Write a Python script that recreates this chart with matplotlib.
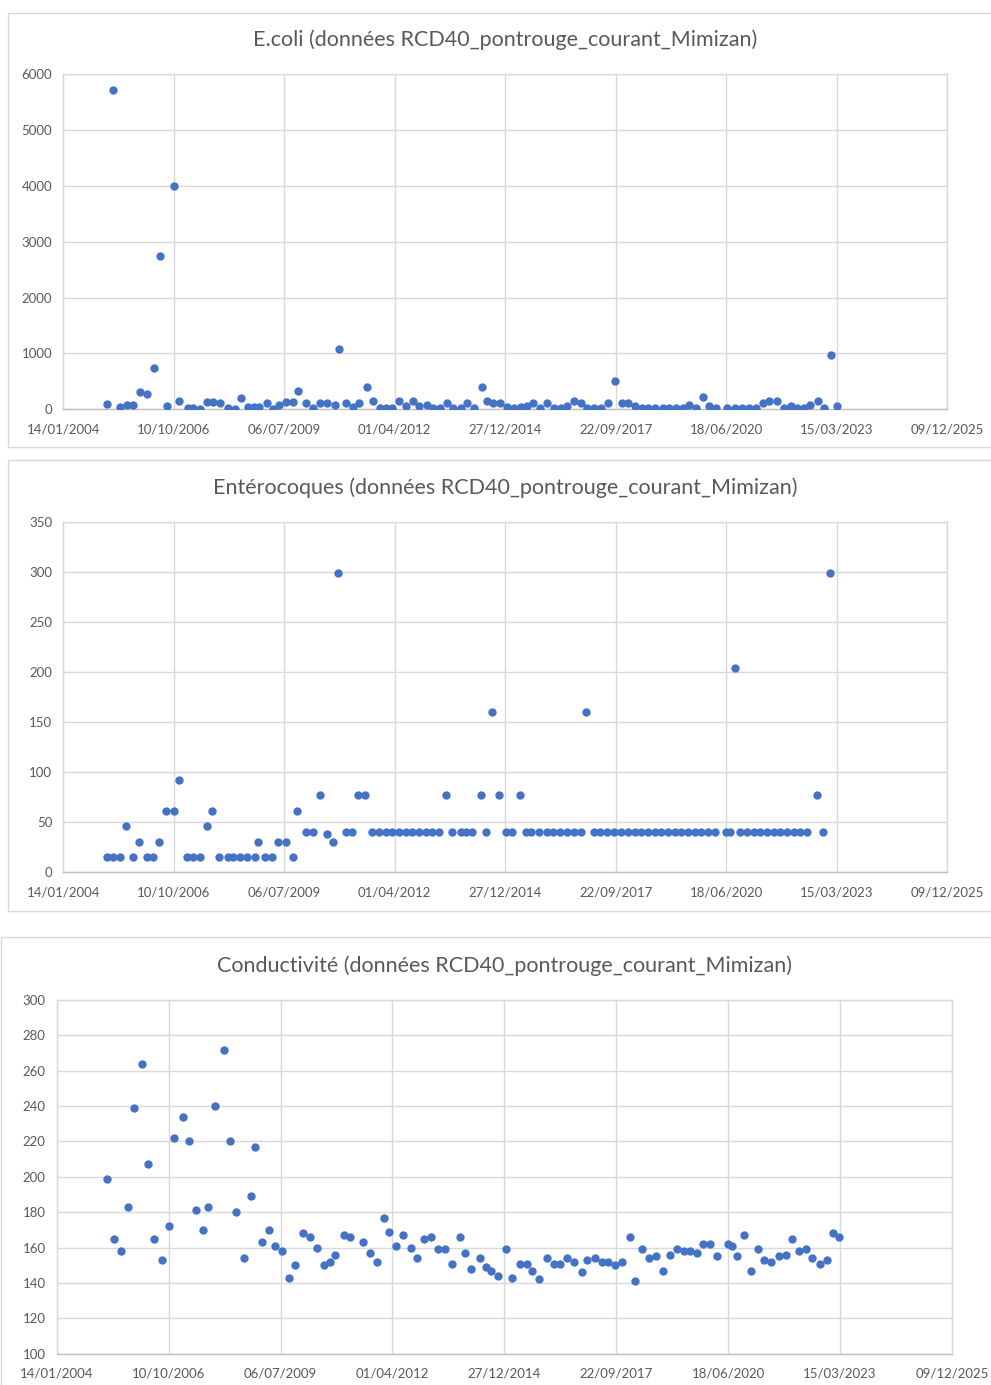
import datetime
import matplotlib
matplotlib.use("Agg")
import matplotlib.pyplot as plt
from matplotlib.ticker import FuncFormatter, MultipleLocator
from matplotlib.patches import Rectangle

# Dates are Excel serial day numbers (as in the source spreadsheet)
ecoli_dates = [
    38392, 38452, 38513, 38573, 38633, 38694, 38754, 38821, 38872, 38941,
    38998, 39044, 39131, 39176, 39237, 39300, 39357, 39418, 39493, 39554,
    39611, 39674, 39729, 39771, 39840, 39894, 39949, 40015, 40081, 40124,
    40199, 40262, 40326, 40386, 40456, 40498, 40561, 40618, 40676, 40745,
    40805, 40866, 40920, 40974, 41035, 41098, 41167, 41222, 41288, 41342,
    41409, 41469, 41529, 41599, 41650, 41716, 41786, 41837, 41891, 41952,
    42012, 42078, 42139, 42193, 42253, 42314, 42380, 42440, 42501, 42561,
    42621, 42682, 42742, 42802, 42863, 42932, 42992, 43053, 43113, 43173,
    43234, 43294, 43354, 43424, 43484, 43545, 43605, 43665, 43726, 43786,
    43846, 43906, 44009, 44078, 44139, 44208, 44269, 44329, 44389, 44456,
    44522, 44582, 44643, 44703, 44757, 44833, 44884, 44944, 44999,
]
ecoli_values = [
    101, 5707, 48, 78, 78, 304, 274, 733, 2743, 60,
    3995, 149, 30, 30, 12, 131, 131, 107, 24, 12,
    209, 48, 36, 48, 119, 6, 72, 131, 125, 322,
    107, 30, 119, 119, 78, 1073, 107, 36, 107, 394,
    149, 30, 30, 30, 149, 66, 155, 66, 78, 30,
    30, 119, 30, 30, 119, 30, 394, 149, 119, 119,
    48, 30, 48, 66, 119, 30, 119, 30, 30, 66,
    155, 119, 30, 30, 30, 119, 507, 119, 119, 66,
    30, 30, 30, 30, 30, 30, 30, 78, 30, 215,
    66, 30, 30, 30, 30, 30, 30, 119, 155, 155,
    30, 66, 30, 30, 78, 155, 30, 978, 66,
]

entero_dates = [
    38392, 38446, 38513, 38570, 38633, 38688, 38754, 38814, 38863, 38929,
    39002, 39044, 39122, 39176, 39237, 39303, 39348, 39409, 39487, 39538,
    39599, 39665, 39732, 39765, 39825, 39888, 39946, 40012, 40081, 40118,
    40196, 40256, 40323, 40383, 40443, 40489, 40555, 40618, 40664, 40730,
    40796, 40860, 40920, 40980, 41041, 41101, 41161, 41222, 41282, 41342,
    41403, 41460, 41523, 41596, 41644, 41698, 41780, 41831, 41885, 41946,
    42006, 42066, 42133, 42193, 42238, 42308, 42380, 42434, 42495, 42561,
    42621, 42691, 42736, 42802, 42857, 42923, 42983, 43053, 43113, 43173,
    43234, 43294, 43354, 43415, 43475, 43535, 43596, 43656, 43716, 43777,
    43837, 43897, 43997, 44033, 44081, 44130, 44190, 44250, 44311, 44371,
    44431, 44492, 44552, 44612, 44673, 44733, 44824, 44878, 44938,
]
entero_values = [
    15, 15, 15, 46, 15, 30, 15, 15, 30, 61,
    61, 92, 15, 15, 15, 46, 61, 15, 15, 15,
    15, 15, 15, 30, 15, 15, 30, 30, 15, 61,
    40, 40, 77, 38, 30, 299, 40, 40, 77, 77,
    40, 40, 40, 40, 40, 40, 40, 40, 40, 40,
    40, 77, 40, 40, 40, 40, 77, 40, 160, 77,
    40, 40, 77, 40, 40, 40, 40, 40, 40, 40,
    40, 40, 160, 40, 40, 40, 40, 40, 40, 40,
    40, 40, 40, 40, 40, 40, 40, 40, 40, 40,
    40, 40, 40, 40, 204, 40, 40, 40, 40, 40,
    40, 40, 40, 40, 40, 40, 77, 40, 299,
]

cond_dates = [
    38446, 38512, 38571, 38637, 38693, 38759, 38818, 38869, 38940, 39006,
    39045, 39131, 39179, 39244, 39307, 39351, 39411, 39494, 39545, 39604,
    39670, 39735, 39768, 39836, 39893, 39949, 40015, 40080, 40125, 40202,
    40259, 40324, 40387, 40443, 40491, 40563, 40622, 40738, 40798, 40866,
    40926, 40973, 41030, 41098, 41164, 41220, 41286, 41342, 41405, 41467,
    41530, 41607, 41646, 41702, 41780, 41833, 41884, 41943, 42012, 42068,
    42137, 42199, 42244, 42307, 42381, 42443, 42500, 42563, 42619, 42693,
    42741, 42807, 42869, 42926, 42988, 43054, 43119, 43167, 43232, 43289,
    43357, 43414, 43479, 43539, 43601, 43658, 43720, 43777, 43839, 43899,
    44000, 44033, 44083, 44143, 44208, 44265, 44321, 44387, 44452, 44515,
    44574, 44634, 44696, 44750, 44824, 44881, 44940, 44994,
]
cond_values = [
    199, 165, 158, 183, 239, 264, 207, 165, 153, 172,
    222, 234, 220, 181, 170, 183, 240, 272, 220, 180,
    154, 189, 217, 163, 170, 161, 158, 143, 150, 168,
    166, 160, 150, 152, 156, 167, 166, 163, 157, 152,
    177, 169, 161, 167, 160, 154, 165, 166, 159, 159,
    151, 166, 157, 148, 154, 149, 147, 144, 159, 143,
    151, 151, 147, 142, 154, 151, 151, 154, 152, 146,
    153, 154, 152, 152, 150, 152, 166, 141, 159, 154,
    155, 147, 156, 159, 158, 158, 157, 162, 162, 155,
    162, 161, 155, 167, 147, 159, 153, 152, 155, 156,
    165, 158, 159, 154, 151, 153, 168, 166,
]

titles = [
    "E.coli (données RCD40_pontrouge_courant_Mimizan)",
    "Entérocoques (données RCD40_pontrouge_courant_Mimizan)",
    "Conductivité (données RCD40_pontrouge_courant_Mimizan)",
]

BLUE = "#4472C4"
GRID = "#d9d9d9"
TEXT = "#595959"

plt.rcParams["font.family"] = ["Lato", "DejaVu Sans"]

W, H = 991, 1385
fig = plt.figure(figsize=(W / 100, H / 100), dpi=100)


def px_rect(x0, y0, x1, y1):
    """pixel box (top-left origin) -> figure fraction [l, b, w, h]"""
    return [x0 / W, 1 - y1 / H, (x1 - x0) / W, (y1 - y0) / H]


def excel_date(v, pos=None):
    d = datetime.datetime(1899, 12, 30) + datetime.timedelta(days=v)
    return d.strftime("%d/%m/%Y")


# chart area borders
for x0, y0, x1, y1 in [(8, 13, 1000, 447), (8, 460, 1000, 911), (1, 937, 1000, 1395)]:
    fig.add_artist(Rectangle((x0 / W, 1 - y1 / H), (x1 - x0) / W, (y1 - y0) / H,
                             transform=fig.transFigure, fill=False,
                             edgecolor=GRID, linewidth=1))


def make_panel(box, dates, values, title, ymin, ymax, ystep, title_y):
    ax = fig.add_axes(px_rect(*box))
    ax.scatter(dates, values, s=36, color=BLUE, zorder=3, linewidths=0)
    ax.set_xlim(38000, 46000)
    ax.set_ylim(ymin, ymax)
    ax.xaxis.set_major_locator(MultipleLocator(1000))
    ax.xaxis.set_major_formatter(FuncFormatter(excel_date))
    ax.yaxis.set_major_locator(MultipleLocator(ystep))
    ax.grid(True, color=GRID, linewidth=1)
    ax.set_axisbelow(True)
    for s in ax.spines.values():
        s.set_color(GRID)
        s.set_linewidth(1)
    ax.spines["bottom"].set_color("#bfbfbf")
    ax.tick_params(length=0, labelsize=9.5, labelcolor=TEXT)
    ax.tick_params(axis="x", pad=10)
    ax.tick_params(axis="y", pad=8)
    fig.text(((box[0] + box[2]) / 2) / W, 1 - title_y / H, title,
             ha="center", va="center", fontsize=15.5, color=TEXT)
    return ax


make_panel((63.3, 74, 947.3, 409.3), ecoli_dates, ecoli_values, titles[0],
           0, 6000, 1000, 40)
make_panel((63.3, 521.7, 947, 872.3), entero_dates, entero_values, titles[1],
           0, 350, 50, 488)
make_panel((56.7, 1000, 952, 1353.7), cond_dates, cond_values, titles[2],
           100, 300, 20, 966)

fig.savefig("out.png", dpi=100, facecolor="white")
